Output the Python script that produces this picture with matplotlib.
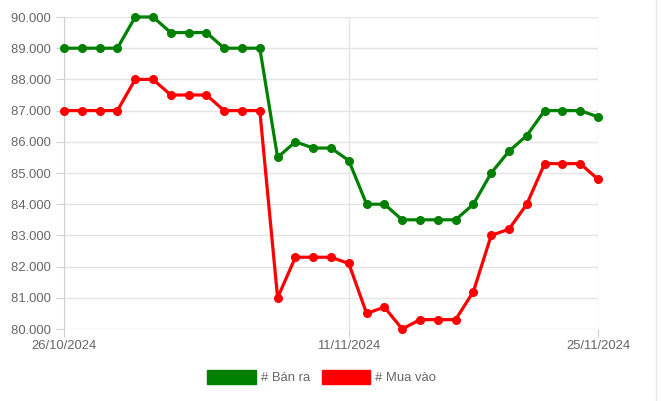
import matplotlib.pyplot as plt
from matplotlib.lines import Line2D
from matplotlib.patches import Patch
from matplotlib.ticker import FuncFormatter

plt.rcParams['font.family'] = ['Liberation Sans', 'DejaVu Sans']

# Даты (дни с 26/10/2024 по 25/11/2024)
dates = ['26/10/2024', '27/10/2024', '28/10/2024', '29/10/2024', '30/10/2024', '31/10/2024',
         '01/11/2024', '02/11/2024', '03/11/2024', '04/11/2024', '05/11/2024', '06/11/2024',
         '07/11/2024', '08/11/2024', '09/11/2024', '10/11/2024', '11/11/2024', '12/11/2024',
         '13/11/2024', '14/11/2024', '15/11/2024', '16/11/2024', '17/11/2024', '18/11/2024',
         '19/11/2024', '20/11/2024', '21/11/2024', '22/11/2024', '23/11/2024', '24/11/2024',
         '25/11/2024']

# Цена продажи
ban_ra = [89000, 89000, 89000, 89000, 90000, 90000, 89500, 89500, 89500, 89000, 89000,
          89000, 85500, 86000, 85800, 85800, 85400, 84000, 84000, 83500, 83500, 83500,
          83500, 84000, 85000, 85700, 86200, 87000, 87000, 87000, 86800]

# Цена покупки
mua_vao = [87000, 87000, 87000, 87000, 88000, 88000, 87500, 87500, 87500, 87000, 87000,
           87000, 81000, 82300, 82300, 82300, 82100, 80500, 80700, 80000, 80300, 80300,
           80300, 81200, 83000, 83200, 84000, 85300, 85300, 85300, 84800]

shown_ticks = ['26/10/2024', '11/11/2024', '25/11/2024']
green = '#008000'
red = '#ff0000'

fig = plt.figure(figsize=(6.62, 4.01), dpi=100)
ax = fig.add_axes([64 / 662, 1 - 329 / 401, (598 - 64) / 662, (329 - 17) / 401])

x = list(range(len(dates)))
ax.plot(x, ban_ra, color=green, linewidth=2.3, marker='o', markersize=5.5,
        zorder=3, clip_on=False)
ax.plot(x, mua_vao, color=red, linewidth=2.3, marker='o', markersize=5.5,
        zorder=3, clip_on=False)

ax.set_xlim(0, len(dates) - 1)
ax.set_ylim(80000, 90000)
ax.set_yticks(range(80000, 90001, 1000))
ax.yaxis.set_major_formatter(FuncFormatter(lambda v, p: f'{v:,.0f}'.replace(',', '.') + ' '))

tick_pos = [dates.index(d) for d in shown_ticks]
ax.set_xticks(tick_pos)
ax.set_xticklabels(shown_ticks)

ax.grid(True, color='#e4e4e4', linewidth=1)
ax.set_axisbelow(True)
for side in ['top', 'right', 'bottom']:
    ax.spines[side].set_visible(False)
ax.spines['left'].set_color('#d0d0d0')
ax.tick_params(axis='both', colors='#d0d0d0', labelcolor='#666666', labelsize=9.4, length=6)
ax.tick_params(axis='y', pad=1)
ax.tick_params(axis='x', pad=2)

# Легенда с прямоугольниками
handles = [Patch(facecolor=green, edgecolor=green, label='# Bán ra'),
           Patch(facecolor=red, edgecolor=red, label='# Mua vào')]
leg = fig.legend(handles=handles, loc='lower center', bbox_to_anchor=(0.486, 0.012), ncol=2,
                 frameon=False, handlelength=3.7, handleheight=1.2, fontsize=9.4,
                 columnspacing=0.9, handletextpad=0.4)
for t in leg.get_texts():
    t.set_color('#666666')

# Светлая линия у правого края
fig.add_artist(Line2D([656 / 662, 656 / 662], [0, 1], color='#e8e8e8', linewidth=1))

fig.savefig('out.png', dpi=100)
